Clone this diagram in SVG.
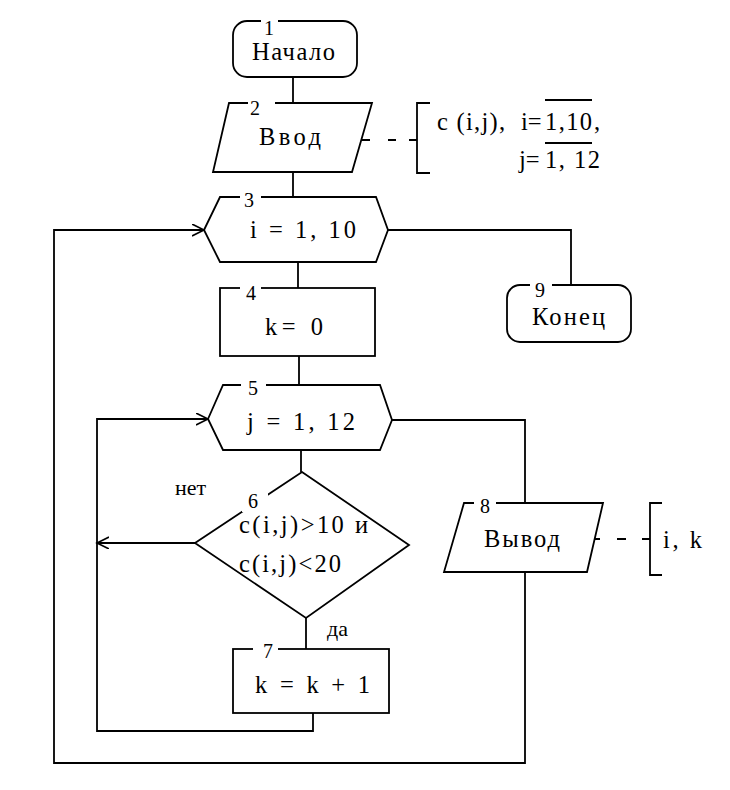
<svg xmlns="http://www.w3.org/2000/svg" width="730" height="790" viewBox="0 0 730 790">
<defs>
<style>
.s{fill:#fff;stroke:#000;stroke-width:1.8}
.c{fill:none;stroke:#000;stroke-width:1.8}
.t{font-family:"Liberation Serif","Times New Roman",serif;font-size:24.5px;fill:#000}
.n{font-family:"Liberation Serif","Times New Roman",serif;font-size:20px;fill:#000}
.l{font-family:"Liberation Serif","Times New Roman",serif;font-size:22px;fill:#000}
.m{fill:#fff;stroke:none}
</style>
<marker id="a" markerUnits="userSpaceOnUse" markerWidth="14" markerHeight="14" refX="12" refY="6" orient="auto">
<path d="M0,0 L12,6 L0,12" fill="none" stroke="#000" stroke-width="1.6"/>
</marker>
</defs>
<rect width="730" height="790" fill="#fff"/>
<g id="connectors">
<path class="c" d="M293,77 V103"/>
<path class="c" d="M293,172 V197"/>
<path class="c" d="M298,262 V288"/>
<path class="c" d="M299,356 V385"/>
<path class="c" d="M388,230 H571 V285"/>
<path class="c" d="M301,450 V472"/>
<path class="c" d="M306,618 V649"/>
<path class="c" d="M313,713 V731 H97 V419 H208" marker-end="url(#a)"/>
<path class="c" d="M195,543 H97" marker-end="url(#a)"/>
<path class="c" d="M392,420 H525 V503"/>
<path class="c" d="M525,572 V763 H54 V230 H204" marker-end="url(#a)"/>
<path class="c" d="M361,140 H370 M388,140 H396 M409,140 H417"/>
<path class="c" d="M430,103 H417 V173 H430"/>
<path class="c" d="M590,539 H600 M617,539 H626 M642,539 H650"/>
<path class="c" d="M662,503 H650 V575 H662"/>
</g>
<g id="node1">
<rect class="s" x="233" y="21" width="124" height="56" rx="14"/>
<rect class="m" x="261" y="15" width="17" height="12"/>
<text class="n" x="269" y="35" text-anchor="middle">1</text>
<text class="t" x="252" y="60" textLength="83" lengthAdjust="spacing">Начало</text>
</g>
<g id="node2">
<polygon class="s" points="229,103 372,103 352,172 213,172"/>
<rect class="m" x="248" y="97" width="27" height="12"/>
<text class="n" x="255" y="115" text-anchor="middle">2</text>
<text class="t" x="259" y="145" textLength="62" lengthAdjust="spacing">Ввод</text>
</g>
<g id="note2">
<text class="t" x="437" y="130" textLength="68" lengthAdjust="spacing">c (i,j),</text>
<text class="t" x="521" y="130">i=</text>
<text class="t" x="545" y="130" textLength="47" lengthAdjust="spacing">1,10</text>
<text class="t" x="594" y="130">,</text>
<text class="t" x="519" y="168">j=</text>
<text class="t" x="545" y="168" textLength="55" lengthAdjust="spacing">1, 12</text>
<path class="c" d="M545,100 H592 M545,143 H592" stroke-width="1.5"/>
</g>
<g id="node3">
<polygon class="s" points="204,230 220,197 376,197 388,230 376,262 220,262"/>
<rect class="m" x="240" y="191" width="21" height="12"/>
<text class="n" x="249" y="207" text-anchor="middle">3</text>
<text class="t" x="250" y="238" textLength="106" lengthAdjust="spacing">i = 1, 10</text>
</g>
<g id="node4">
<rect class="s" x="220" y="288" width="155" height="68"/>
<rect class="m" x="240" y="282" width="21" height="12"/>
<text class="n" x="251" y="300" text-anchor="middle">4</text>
<text class="t" x="265" y="335" textLength="58" lengthAdjust="spacing">k= 0</text>
</g>
<g id="node9">
<rect class="s" x="507" y="285" width="124" height="57" rx="13"/>
<rect class="m" x="530" y="279" width="22" height="12"/>
<text class="n" x="540" y="297" text-anchor="middle">9</text>
<text class="t" x="532" y="325" textLength="73" lengthAdjust="spacing">Конец</text>
</g>
<g id="node5">
<polygon class="s" points="208,419 223,385 380,385 392,420 380,450 223,450"/>
<rect class="m" x="241" y="379" width="25" height="12"/>
<text class="n" x="253" y="395" text-anchor="middle">5</text>
<text class="t" x="247" y="430" textLength="108" lengthAdjust="spacing">j = 1, 12</text>
</g>
<g id="node6">
<polygon class="s" points="302,472 409,545 306,618 195,543"/>
<rect class="m" x="242" y="492" width="26" height="20"/>
<text class="n" x="253" y="508" text-anchor="middle">6</text>
<text class="t" x="239" y="533" textLength="129" lengthAdjust="spacing">c(i,j)&gt;10 и</text>
<text class="t" x="239" y="572" textLength="102" lengthAdjust="spacing">c(i,j)&lt;20</text>
</g>
<g id="labels">
<text class="l" x="175" y="495">нет</text>
<text class="l" x="327" y="636">да</text>
</g>
<g id="node7">
<rect class="s" x="233" y="649" width="156" height="64"/>
<rect class="m" x="253" y="643" width="25" height="12"/>
<text class="n" x="268" y="658" text-anchor="middle">7</text>
<text class="t" x="255" y="693" textLength="115" lengthAdjust="spacing">k = k + 1</text>
</g>
<g id="node8">
<polygon class="s" points="464,503 603,503 587,572 444,572"/>
<rect class="m" x="474" y="497" width="22" height="12"/>
<text class="n" x="485" y="513" text-anchor="middle">8</text>
<text class="t" x="484" y="547" textLength="76" lengthAdjust="spacing">Вывод</text>
</g>
<g id="note8">
<text class="t" x="663" y="548" textLength="39" lengthAdjust="spacing">i, k</text>
</g>
</svg>
